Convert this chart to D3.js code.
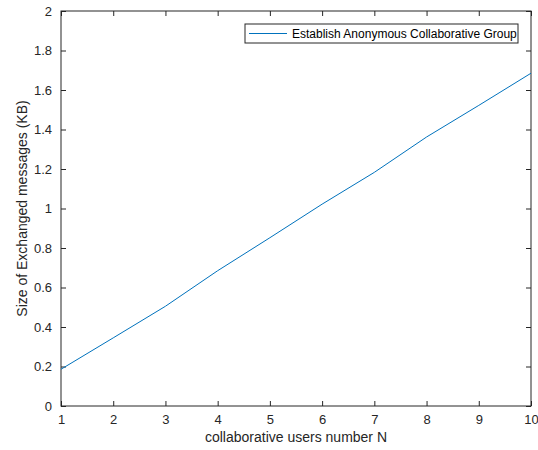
<!doctype html>
<html>
<head>
<script src="https://cdn.jsdelivr.net/npm/d3@7/dist/d3.min.js"></script>
<style>
  body { margin: 0; background: #fff; }
  svg { display: block; font-family: "Liberation Sans", Arial, sans-serif; }
</style>
</head>
<body>
<svg width="538" height="450"></svg>
<script>
// data
var users = [1, 2, 3, 4, 5, 6, 7, 8, 9, 10];
var msgSize = [0.186, 0.345, 0.505, 0.685, 0.852, 1.022, 1.183, 1.362, 1.522, 1.685];
var xTicks = [1, 2, 3, 4, 5, 6, 7, 8, 9, 10];
var yTicks = [0, 0.2, 0.4, 0.6, 0.8, 1, 1.2, 1.4, 1.6, 1.8, 2];
var seriesName = "Establish Anonymous Collaborative Group";

var svg = d3.select("svg");
// plot box (note: "top" is taken by window.top, so use other names)
var pLeft = 61, pRight = 531, pTop = 11, pBottom = 406;
var axisColor = "#262626";

var x = d3.scaleLinear().domain([1, 10]).range([pLeft, pRight]);
var y = d3.scaleLinear().domain([0, 2]).range([pBottom, pTop]);

// box
svg.append("rect")
   .attr("x", pLeft).attr("y", pTop)
   .attr("width", pRight - pLeft).attr("height", pBottom - pTop)
   .attr("fill", "none").attr("stroke", axisColor).attr("stroke-width", 1);

// axes with inward ticks
function styleAxis(g) {
  g.select(".domain").remove();
  g.selectAll(".tick line").attr("stroke", axisColor);
  g.selectAll(".tick text").attr("fill", axisColor).style("font-size", "13px");
}

svg.append("g").attr("transform", "translate(0," + pBottom + ")")
   .call(d3.axisBottom(x).tickValues(xTicks).tickFormat(d3.format("d")).tickSizeInner(-5).tickPadding(9))
   .call(styleAxis);
svg.append("g").attr("transform", "translate(0," + pTop + ")")
   .call(d3.axisTop(x).tickValues(xTicks).tickSizeInner(-5).tickFormat(""))
   .call(styleAxis);
svg.append("g").attr("transform", "translate(" + pLeft + ",0)")
   .call(d3.axisLeft(y).tickValues(yTicks).tickFormat(d => d3.format("~g")(d)).tickSizeInner(-5).tickPadding(9))
   .call(styleAxis);
svg.append("g").attr("transform", "translate(" + pRight + ",0)")
   .call(d3.axisRight(y).tickValues(yTicks).tickSizeInner(-5).tickFormat(""))
   .call(styleAxis);

// line
var line = d3.line().x((d, i) => x(users[i])).y(d => y(d));
svg.append("path")
   .datum(msgSize)
   .attr("d", line)
   .attr("fill", "none")
   .attr("stroke", "#0072BD")
   .attr("stroke-width", 1);

// axis labels
svg.append("text")
   .attr("x", (pLeft + pRight) / 2).attr("y", 442)
   .attr("text-anchor", "middle").attr("fill", axisColor)
   .style("font-size", "14px")
   .text("collaborative users number N");
svg.append("text")
   .attr("transform", "translate(27," + ((pTop + pBottom) / 2) + ") rotate(-90)")
   .attr("text-anchor", "middle").attr("fill", axisColor)
   .style("font-size", "14px")
   .text("Size of Exchanged messages (KB)");

// legend
var lg = svg.append("g");
lg.append("rect")
  .attr("x", 245).attr("y", 24).attr("width", 273).attr("height", 19)
  .attr("fill", "#fff").attr("stroke", axisColor).attr("stroke-width", 1);
lg.append("line")
  .attr("x1", 249).attr("x2", 287).attr("y1", 33.5).attr("y2", 33.5)
  .attr("stroke", "#0072BD").attr("stroke-width", 1);
lg.append("text")
  .attr("x", 292).attr("y", 38)
  .attr("fill", "#000").style("font-size", "12px")
  .text(seriesName);
</script>
</body>
</html>
